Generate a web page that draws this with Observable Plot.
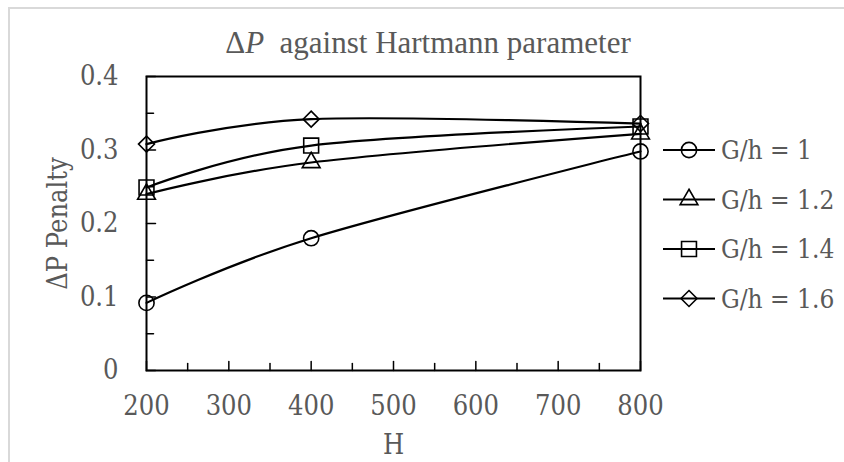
<!DOCTYPE html>
<html>
<head>
<meta charset="utf-8">
<script src="https://cdn.jsdelivr.net/npm/d3@7"></script>
<script src="https://cdn.jsdelivr.net/npm/@observablehq/plot@0.6"></script>
<style>
  body { margin: 0; background: #fff; }
  #chart { position: relative; width: 844px; height: 462px; overflow: hidden; background: #fff; }
  #edge { position: absolute; left: 8px; top: 7px; width: 1000px; height: 1000px;
          border-top: 2px solid #d9d9d9; border-left: 2px solid #d9d9d9; }
  #overlay { position: absolute; left: 0; top: 0; }
</style>
</head>
<body>
<div id="chart">
  <div id="edge"></div>
</div>
<script>
// Hartmann parameter values on the x axis
const hValues = [200, 400, 800];

// ΔP penalty for each gap ratio G/h
const seriesNames = ["G/h = 1", "G/h = 1.2", "G/h = 1.4", "G/h = 1.6"];
const penaltyG10 = [0.092, 0.180, 0.298];
const penaltyG12 = [0.240, 0.283, 0.322];
const penaltyG14 = [0.249, 0.306, 0.332];
const penaltyG16 = [0.308, 0.342, 0.336];
const seriesSymbols = ["circle", "triangle", "square", "diamond2"];

// axis ticks
const xTicks = [200, 300, 400, 500, 600, 700, 800];
const xMinorTicks = [250, 350, 450, 550, 650, 750];
const yTicks = [0, 0.1, 0.2, 0.3, 0.4];
const yMinorTicks = [0.05, 0.15, 0.25, 0.35];

const seriesValues = [penaltyG10, penaltyG12, penaltyG14, penaltyG16];
const rows = seriesNames.flatMap((name, i) =>
  hValues.map((h, j) => ({series: name, H: h, penalty: seriesValues[i][j]}))
);

const labelColor = "#595959";
const fontFamily = '"DejaVu Serif Condensed", "DejaVu Serif", serif';
const fontSize = 27;
// marker radius per symbol, so each outline is about 16px across
const markerRadius = {circle: 7.6, triangle: 6.6, square: 8.4, diamond2: 7.2};
const tickLine = {draw(context, l) { context.moveTo(0, 0); context.lineTo(0, -l); }};
const tickStyle = {stroke: "black", strokeWidth: 1.5, anchor: "start", shape: tickLine};

const plot = Plot.plot({
  width: 844,
  height: 462,
  marginLeft: 146,
  marginRight: 204,
  marginTop: 76,
  marginBottom: 92,
  style: {fontFamily, fontStretch: "condensed", fontSize: `${fontSize}px`, color: labelColor, background: "transparent"},
  x: {type: "linear", domain: [200, 800]},
  y: {domain: [0, 0.4]},
  marks: [
    Plot.axisX({ticks: xTicks, tickSize: 0, tickPadding: 25, tickFormat: d => d, fill: labelColor,
                label: "H", labelAnchor: "center", labelArrow: "none", labelOffset: 83}),
    Plot.axisY({ticks: yTicks, tickSize: 0, tickPadding: 28, tickFormat: d => d3.format("")(d), fill: labelColor,
                label: "ΔP Penalty", labelAnchor: "center", labelArrow: "none", labelOffset: 99}),
    // tick marks pointing into the plot
    Plot.vector(xTicks, {x: d => d, frameAnchor: "bottom", length: 9, rotate: 0, ...tickStyle}),
    Plot.vector(xMinorTicks, {x: d => d, frameAnchor: "bottom", length: 7, rotate: 0, ...tickStyle}),
    Plot.vector(yTicks, {y: d => d, frameAnchor: "left", length: 9, rotate: 90, ...tickStyle}),
    Plot.vector(yMinorTicks, {y: d => d, frameAnchor: "left", length: 7, rotate: 90, ...tickStyle}),
    Plot.frame({stroke: "black", strokeWidth: 2}),
    Plot.line(rows, {x: "H", y: "penalty", z: "series", curve: "cardinal", stroke: "black", strokeWidth: 2.2}),
    ...seriesNames.map((name, i) =>
      Plot.dot(rows.filter(d => d.series === name), {
        x: "H", y: "penalty", symbol: seriesSymbols[i], r: markerRadius[seriesSymbols[i]],
        stroke: "black", strokeWidth: 1.6, fill: "none"
      }))
  ]
});
document.getElementById("chart").appendChild(plot);

const overlay = d3.select("#chart").append("svg")
  .attr("id", "overlay").attr("width", 844).attr("height", 462);

// chart title
const title = overlay.append("text")
  .attr("x", 428).attr("y", 53).attr("text-anchor", "middle")
  .attr("font-family", '"Liberation Serif", "Times New Roman", serif')
  .attr("font-size", 31).attr("fill", labelColor);
title.append("tspan").text("Δ");
title.append("tspan").attr("font-style", "italic").text("P");
title.append("tspan").attr("xml:space", "preserve").text("\u00a0 against Hartmann parameter");

// legend: line, marker and label for each series
const legendX = 663, legendY = 150, legendStep = 49.5, legendLine = 52;
const symbolTypes = {circle: d3.symbolCircle, triangle: d3.symbolTriangle, square: d3.symbolSquare, diamond2: d3.symbolDiamond2};
seriesNames.forEach((name, i) => {
  const s = seriesSymbols[i];
  const g = overlay.append("g").attr("transform", `translate(${legendX},${legendY + i * legendStep})`);
  g.append("line").attr("x1", 0).attr("x2", legendLine).attr("stroke", "black").attr("stroke-width", 2.2);
  g.append("path").attr("transform", `translate(${legendLine / 2},0)`)
    .attr("d", d3.symbol(symbolTypes[s], markerRadius[s] * markerRadius[s] * Math.PI)())
    .attr("fill", "none").attr("stroke", "black").attr("stroke-width", 1.6);
  g.append("text").attr("x", legendLine + 6).attr("dy", "0.35em")
    .attr("font-family", fontFamily).attr("font-stretch", "condensed")
    .attr("font-size", fontSize - 1).attr("fill", labelColor).text(name);
});
</script>
</body>
</html>
